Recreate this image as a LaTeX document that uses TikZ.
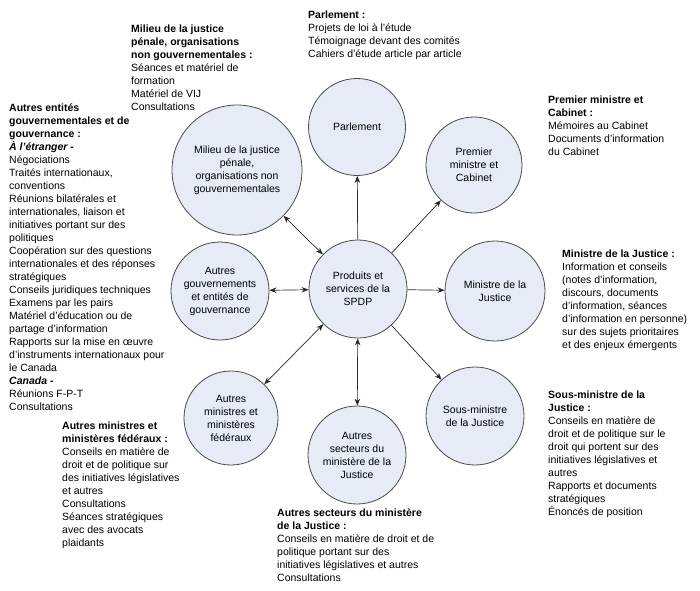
\documentclass[tikz,border=0pt]{standalone}
\usepackage{fontspec}
\setmainfont{Liberation Sans}
\usetikzlibrary{arrows.meta}
\definecolor{cfill}{HTML}{E6EBF5}
\definecolor{cline}{HTML}{4A4A4A}
\begin{document}
\begin{tikzpicture}[x=1pt,y=-1pt,
  bubble/.style={circle,draw=cline,fill=cfill,line width=0.8pt,align=center,inner sep=0pt,font=\fontsize{10.5}{13}\selectfont},
  info/.style={anchor=north west,align=left,inner sep=0pt,font=\fontsize{10.5}{13}\selectfont},
  link/.style={line width=0.7pt,draw=black!85,-{Stealth[length=7pt,width=5.5pt]}},
  dlink/.style={line width=0.7pt,draw=black!85,{Stealth[length=7pt,width=5.5pt]}-{Stealth[length=7pt,width=5.5pt]}}]
\useasboundingbox (0,0) rectangle (700,590);

\node[bubble,minimum size=98pt] (spdp) at (358,289) {Produits et\\services de la\\SPDP};
\node[bubble,minimum size=97pt] (parl) at (357,127) {Parlement};
\node[bubble,minimum size=96pt] (pm) at (474,165) {Premier\\ministre et\\Cabinet};
\node[bubble,minimum size=130pt] (mil) at (237,170) {Milieu de la justice\\pénale,\\organisations non\\gouvernementales};
\node[bubble,minimum size=98pt] (gouv) at (220,291) {Autres\\gouvernements\\et entités de\\gouvernance};
\node[bubble,minimum size=94pt] (amin) at (231,418) {Autres\\ministres et\\ministères\\fédéraux};
\node[bubble,minimum size=98pt] (asec) at (357,455) {Autres\\secteurs du\\ministère de la\\Justice};
\node[bubble,minimum size=100pt] (mj) at (495,291) {Ministre de la\\Justice};
\node[bubble,minimum size=98pt] (smj) at (475,416) {Sous-ministre\\de la Justice};

\draw[link] (spdp) -- (parl);
\draw[link] (spdp) -- (pm);
\draw[link] (spdp) -- (mj);
\draw[link] (spdp) -- (smj);
\draw[dlink] (spdp) -- (asec);
\draw[dlink] (spdp) -- (amin);
\draw[dlink] (spdp) -- (gouv);
\draw[dlink] (spdp) -- (mil);

\node[info] (tparl) at (308,8.9) {\strut\textbf{Parlement :}\\Projets de loi à l’étude\\Témoignage devant des comités\\Cahiers d’étude article par article};
\node[info] (tmil) at (131,22.9) {\strut\textbf{Milieu de la justice}\\\textbf{pénale, organisations}\\\textbf{non gouvernementales :}\\Séances et matériel de\\formation\\Matériel de VIJ\\Consultations};
\node[info] (tgouv) at (9,101.9) {\strut\textbf{Autres entités}\\\textbf{gouvernementales et de}\\\textbf{gouvernance :}\\\textbf{\textit{À l’étranger -}}\\Négociations\\Traités internationaux,\\conventions\\Réunions bilatérales et\\internationales, liaison et\\initiatives portant sur des\\politiques\\Coopération sur des questions\\internationales et des réponses\\stratégiques\\Conseils juridiques techniques\\Examens par les pairs\\Matériel d’éducation ou de\\partage d’information\\Rapports sur la mise en œuvre\\d’instruments internationaux pour\\le Canada\\\textbf{\textit{Canada -}}\\Réunions F-P-T\\Consultations};
\node[info] (tpm) at (548,93.9) {\strut\textbf{Premier ministre et}\\\textbf{Cabinet :}\\Mémoires au Cabinet\\Documents d’information\\du Cabinet};
\node[info] (tmj) at (562,247.9) {\strut\textbf{Ministre de la Justice :}\\Information et conseils\\(notes d’information,\\discours, documents\\d’information, séances\\d’information en personne)\\sur des sujets prioritaires\\et des enjeux émergents};
\node[info] (tsmj) at (548,388.9) {\strut\textbf{Sous-ministre de la}\\\textbf{Justice :}\\Conseils en matière de\\droit et de politique sur le\\droit qui portent sur des\\initiatives législatives et\\autres\\Rapports et documents\\stratégiques\\Énoncés de position};
\node[info] (tamin) at (62,419.9) {\strut\textbf{Autres ministres et}\\\textbf{ministères fédéraux :}\\Conseils en matière de\\droit et de politique sur\\des initiatives législatives\\et autres\\Consultations\\Séances stratégiques\\avec des avocats\\plaidants};
\node[info] (tasec) at (277,506.9) {\strut\textbf{Autres secteurs du ministère}\\\textbf{de la Justice :}\\Conseils en matière de droit et de\\politique portant sur des\\initiatives législatives et autres\\Consultations};
\end{tikzpicture}
\end{document}
